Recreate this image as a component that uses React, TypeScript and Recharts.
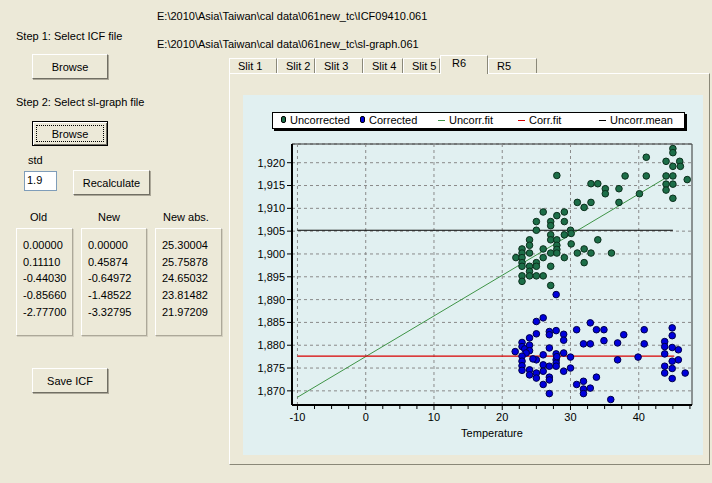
import React from "react";
import {
  ScatterChart,
  Scatter,
  XAxis,
  YAxis,
  CartesianGrid,
  ReferenceLine,
  ReferenceArea,
  Legend,
} from "recharts";

// axis ticks
const xTicks = [-10, 0, 10, 20, 30, 40];
const xMinorTicks = [-7.5, -5, -2.5, 2.5, 5, 7.5, 12.5, 15, 17.5, 22.5, 25, 27.5, 32.5, 35, 37.5, 42.5, 45, 47.5];
const yTicks = [1870, 1875, 1880, 1885, 1890, 1895, 1900, 1905, 1910, 1915, 1920];

// Uncorrected points (temperature, ratio)
const uncorrected = [
  { t: 28.0, v: 1917.2 }, { t: 33.0, v: 1915.4 }, { t: 34.0, v: 1915.4 }, { t: 35.1, v: 1914.3 },
  { t: 35.1, v: 1913.2 }, { t: 37.1, v: 1914.3 }, { t: 38.0, v: 1917.1 }, { t: 40.1, v: 1913.2 },
  { t: 41.1, v: 1921.2 }, { t: 41.1, v: 1917.1 }, { t: 44.0, v: 1920.3 }, { t: 44.0, v: 1917.1 },
  { t: 44.0, v: 1915.3 }, { t: 44.0, v: 1914.0 }, { t: 45.0, v: 1923.1 }, { t: 45.0, v: 1922.2 },
  { t: 45.0, v: 1919.2 }, { t: 45.0, v: 1917.1 }, { t: 45.0, v: 1915.3 }, { t: 45.0, v: 1912.2 },
  { t: 46.0, v: 1920.3 }, { t: 46.1, v: 1919.2 }, { t: 47.1, v: 1916.3 }, { t: 37.1, v: 1911.3 },
  { t: 31.0, v: 1911.3 }, { t: 33.0, v: 1911.3 }, { t: 32.0, v: 1910.2 }, { t: 26.0, v: 1909.2 },
  { t: 29.1, v: 1909.2 }, { t: 28.0, v: 1908.4 }, { t: 25.0, v: 1907.1 }, { t: 27.1, v: 1907.1 },
  { t: 29.1, v: 1907.1 }, { t: 27.1, v: 1906.2 }, { t: 25.0, v: 1905.2 }, { t: 30.0, v: 1905.2 },
  { t: 30.1, v: 1904.5 }, { t: 27.1, v: 1904.2 }, { t: 29.1, v: 1904.2 }, { t: 24.0, v: 1903.1 },
  { t: 27.1, v: 1903.1 }, { t: 28.0, v: 1903.1 }, { t: 34.0, v: 1903.1 }, { t: 30.1, v: 1902.2 },
  { t: 24.0, v: 1901.9 }, { t: 28.0, v: 1901.9 }, { t: 22.9, v: 1901.1 }, { t: 26.0, v: 1901.1 },
  { t: 28.0, v: 1901.0 }, { t: 32.0, v: 1901.1 }, { t: 22.9, v: 1900.2 }, { t: 24.0, v: 1900.2 },
  { t: 27.1, v: 1900.2 }, { t: 28.0, v: 1900.2 }, { t: 31.0, v: 1900.2 }, { t: 33.0, v: 1900.2 },
  { t: 36.0, v: 1900.2 }, { t: 22.0, v: 1899.2 }, { t: 22.9, v: 1899.2 }, { t: 26.0, v: 1899.2 },
  { t: 29.1, v: 1899.2 }, { t: 22.9, v: 1898.1 }, { t: 25.0, v: 1898.1 }, { t: 32.0, v: 1898.1 },
  { t: 22.9, v: 1897.3 }, { t: 24.0, v: 1897.3 }, { t: 25.0, v: 1897.3 }, { t: 27.1, v: 1897.3 },
  { t: 24.0, v: 1896.2 }, { t: 22.9, v: 1895.2 }, { t: 24.0, v: 1895.2 }, { t: 25.0, v: 1895.2 },
  { t: 26.0, v: 1895.2 }, { t: 22.9, v: 1894.0 }, { t: 27.1, v: 1893.1 },
];

// Corrected points
const corrected = [
  { t: 26.0, v: 1886.0 }, { t: 25.0, v: 1885.2 }, { t: 32.9, v: 1884.9 }, { t: 30.9, v: 1883.4 },
  { t: 33.8, v: 1883.4 }, { t: 34.9, v: 1883.4 }, { t: 40.8, v: 1883.4 }, { t: 44.9, v: 1883.8 },
  { t: 26.9, v: 1883.0 }, { t: 26.9, v: 1882.3 }, { t: 27.9, v: 1883.2 }, { t: 29.0, v: 1882.4 },
  { t: 29.0, v: 1881.1 }, { t: 25.0, v: 1882.5 }, { t: 37.8, v: 1882.3 }, { t: 44.9, v: 1882.1 },
  { t: 24.0, v: 1881.6 }, { t: 34.9, v: 1881.0 }, { t: 31.9, v: 1880.3 }, { t: 32.9, v: 1880.3 },
  { t: 36.9, v: 1880.5 }, { t: 40.8, v: 1880.3 }, { t: 43.8, v: 1880.8 }, { t: 43.8, v: 1879.7 },
  { t: 22.9, v: 1880.6 }, { t: 22.9, v: 1879.7 }, { t: 23.3, v: 1879.2 }, { t: 44.9, v: 1879.5 },
  { t: 45.8, v: 1879.0 }, { t: 26.9, v: 1879.4 }, { t: 21.9, v: 1878.6 }, { t: 24.0, v: 1880.0 },
  { t: 24.0, v: 1878.8 }, { t: 23.5, v: 1878.3 }, { t: 26.0, v: 1877.9 }, { t: 27.9, v: 1878.1 },
  { t: 29.0, v: 1878.3 }, { t: 30.0, v: 1877.4 }, { t: 36.9, v: 1876.8 }, { t: 39.9, v: 1877.4 },
  { t: 43.8, v: 1878.1 }, { t: 22.9, v: 1877.6 }, { t: 22.9, v: 1876.5 }, { t: 22.9, v: 1875.5 },
  { t: 22.9, v: 1874.5 }, { t: 25.0, v: 1876.8 }, { t: 27.9, v: 1876.8 }, { t: 27.9, v: 1876.1 },
  { t: 27.9, v: 1875.4 }, { t: 26.0, v: 1875.7 }, { t: 26.9, v: 1875.4 }, { t: 45.8, v: 1876.8 },
  { t: 44.9, v: 1876.5 }, { t: 43.8, v: 1875.4 }, { t: 43.8, v: 1873.9 }, { t: 44.9, v: 1874.9 },
  { t: 46.8, v: 1873.9 }, { t: 44.9, v: 1872.7 }, { t: 30.0, v: 1875.0 }, { t: 29.0, v: 1874.3 },
  { t: 24.0, v: 1874.6 }, { t: 24.0, v: 1873.5 }, { t: 25.0, v: 1873.9 }, { t: 25.0, v: 1872.8 },
  { t: 26.0, v: 1874.3 }, { t: 26.9, v: 1873.0 }, { t: 26.9, v: 1872.4 }, { t: 33.8, v: 1873.0 },
  { t: 26.0, v: 1871.4 }, { t: 30.9, v: 1871.4 }, { t: 31.9, v: 1872.1 }, { t: 31.9, v: 1870.4 },
  { t: 31.9, v: 1869.4 }, { t: 32.9, v: 1870.6 }, { t: 26.9, v: 1869.4 }, { t: 35.9, v: 1868.1 },
  { t: 24.5, v: 1877.0 }, { t: 28.0, v: 1877.5 }, { t: 27.9, v: 1891.1 },
];

// fitted lines (end points)
const uncorrFit = [{ t: -10, v: 1868.6 }, { t: 45, v: 1917.6 }];
const corrFit = [{ t: -10, v: 1877.6 }, { t: 45.2, v: 1877.6 }];
const uncorrMean = [{ t: -10, v: 1905.2 }, { t: 45, v: 1905.2 }];

const legendItems = [
  { label: "Uncorrected", kind: "dot", color: "#1c6e48" },
  { label: "Corrected", kind: "dot", color: "#0000dc" },
  { label: "Uncorr.fit", kind: "line", color: "#3f9447" },
  { label: "Corr.fit", kind: "line", color: "#d80000" },
  { label: "Uncorr.mean", kind: "line", color: "#000000" },
];
const legendOffsets = [8, 87, 165, 245, 326];

const oldValues = ["0.00000", "0.11110", "-0.44030", "-0.85660", "-2.77700"];
const newValues = ["0.00000", "0.45874", "-0.64972", "-1.48522", "-3.32795"];
const newAbsValues = ["25.30004", "25.75878", "24.65032", "23.81482", "21.97209"];

const tabs = ["Slit 1", "Slit 2", "Slit 3", "Slit 4", "Slit 5", "R6", "R5"];
const tabX = [229, 277, 315, 363, 403, 440, 488, 537];

const FONT = '"Liberation Sans", Arial, sans-serif';
const BG = "#ece9d8";
const CHART_BG = "#e1f0f1";

const allXTicks = [...xTicks, ...xMinorTicks].sort((a, b) => a - b);

const fmtY = (v: number) => v.toLocaleString("en-US");

const makeDot = (fill: string, stroke: string) => (props: any) => {
  const { cx, cy } = props;
  if (cx == null || cy == null) return <g />;
  return <circle cx={cx} cy={cy} r={3.3} fill={fill} stroke={stroke} strokeWidth={1} />;
};

// x tick: tick mark for every tick, label only on the major ones
const XTick = (props: any) => {
  const { x, y, payload } = props;
  const major = xTicks.includes(payload.value);
  return (
    <g>
      <line x1={x} x2={x} y1={y} y2={y + (major ? 5 : 4)} stroke="#000" />
      {major && (
        <text x={x} y={y + 8} dy="0.71em" textAnchor="middle" fontSize={11} fill="#000">
          {payload.value}
        </text>
      )}
    </g>
  );
};

function ChartLegend() {
  return (
    <div
      style={{
        position: "relative",
        width: 411,
        height: 15,
        background: "#fff",
        border: "1px solid #000",
        boxShadow: "2px 2px 0 #000",
        fontFamily: FONT,
        fontSize: 11,
        color: "#000",
      }}
    >
      {legendItems.map((it, i) => (
        <div key={it.label} style={{ position: "absolute", left: legendOffsets[i], top: 1, whiteSpace: "nowrap", lineHeight: "13px" }}>
          {it.kind === "dot" ? (
            <span style={{ display: "inline-block", width: 3, height: 5, borderRadius: 2, background: it.color, border: "0.5px solid #000", marginRight: 4, verticalAlign: 1 }} />
          ) : (
            <span style={{ display: "inline-block", width: 7, height: 1, background: it.color, marginRight: 4, verticalAlign: 3 }} />
          )}
          {it.label}
        </div>
      ))}
    </div>
  );
}

const text = (left: number, top: number, s: string, extra: React.CSSProperties = {}) => (
  <div style={{ position: "absolute", left, top, whiteSpace: "nowrap", lineHeight: "13px", ...extra }}>{s}</div>
);

function Button({ left, top, width, height, label, focused }: { left: number; top: number; width: number; height: number; label: string; focused?: boolean }) {
  return (
    <div
      style={{
        position: "absolute",
        left,
        top,
        width,
        height,
        boxSizing: "border-box",
        background: BG,
        border: "1px solid",
        borderColor: focused ? "#000" : "#fff #716f64 #716f64 #fff",
        boxShadow: focused ? "inset 1px 1px 0 #fff, inset -1px -1px 0 #716f64" : "1px 1px 0 #aca899",
        display: "flex",
        alignItems: "center",
        justifyContent: "center",
      }}
    >
      {focused && (
        <div style={{ position: "absolute", left: 3, top: 3, right: 3, bottom: 3, border: "1px dotted #000" }} />
      )}
      {label}
    </div>
  );
}

function ValueBox({ left, width, values }: { left: number; width: number; values: string[] }) {
  return (
    <div
      style={{
        position: "absolute",
        left,
        top: 228,
        width,
        height: 108,
        boxSizing: "border-box",
        border: "1px solid",
        borderColor: "#fff #aca899 #aca899 #fff",
        boxShadow: "1px 1px 0 #d4d0c0",
      }}
    >
      {values.map((v, i) => (
        <div key={i} style={{ position: "absolute", left: 6, top: 10 + i * 16.7, lineHeight: "13px" }}>{v}</div>
      ))}
    </div>
  );
}

export default function App() {
  return (
    <div
      style={{
        position: "absolute",
        left: 0,
        top: 0,
        width: 712,
        height: 483,
        background: BG,
        fontFamily: FONT,
        fontSize: 11,
        color: "#000",
        overflow: "hidden",
      }}
    >
      {text(157, 10, "E:\\2010\\Asia\\Taiwan\\cal data\\061new_tc\\ICF09410.061")}
      {text(157, 38, "E:\\2010\\Asia\\Taiwan\\cal data\\061new_tc\\sl-graph.061")}
      {text(16, 30, "Step 1: Select ICF file")}
      <Button left={32} top={54} width={76} height={25} label="Browse" />
      {text(16, 96, "Step 2: Select sl-graph file")}
      <Button left={32} top={121} width={76} height={25} label="Browse" focused />
      {text(28, 154, "std")}
      <div
        style={{
          position: "absolute",
          left: 24,
          top: 171,
          width: 33,
          height: 20,
          boxSizing: "border-box",
          background: "#fff",
          border: "1px solid",
          borderColor: "#7f9db9",
          paddingLeft: 2,
          lineHeight: "17px",
        }}
      >
        1.9
      </div>
      <Button left={73} top={170} width={77} height={25} label="Recalculate" />
      {text(30, 211, "Old")}
      {text(98, 211, "New")}
      {text(163, 211, "New abs.")}
      <ValueBox left={16} width={57} values={oldValues} />
      <ValueBox left={81} width={66} values={newValues} />
      <ValueBox left={155} width={67} values={newAbsValues} />
      <Button left={32} top={368} width={76} height={25} label="Save ICF" />

      {/* tab strip */}
      {tabs.map((t, i) => {
        const sel = t === "R6";
        return (
          <div
            key={t}
            style={{
              position: "absolute",
              left: tabX[i],
              top: sel ? 55 : 58,
              width: tabX[i + 1] - tabX[i],
              height: sel ? 19 : 15,
              boxSizing: "border-box",
              borderLeft: "1px solid #fff",
              borderTop: "1px solid #fff",
              borderRight: "1px solid #8a8878",
              background: BG,
              paddingLeft: sel ? 11 : 8,
              paddingTop: 1,
              lineHeight: "13px",
              zIndex: sel ? 2 : 1,
            }}
          >
            {t}
          </div>
        );
      })}
      <div
        style={{
          position: "absolute",
          left: 229,
          top: 73,
          width: 481,
          height: 392,
          boxSizing: "border-box",
          border: "1px solid",
          borderColor: "#fff #8a8878 #8a8878 #fff",
          background: BG,
        }}
      />

      <div style={{ position: "absolute", left: 243, top: 95, width: 460, height: 360, background: CHART_BG }}>
        <ScatterChart width={460} height={360} margin={{ top: 49, right: 11, bottom: 0, left: 0 }} style={{ fontFamily: FONT }}>
          <XAxis
            type="number"
            dataKey="t"
            domain={[-10.8, 47.8]}
            allowDataOverflow
            ticks={allXTicks}
            interval={0}
            tickSize={0}
            tickMargin={0}
            tick={<XTick />}
            axisLine={{ stroke: "#000", strokeWidth: 2 }}
            tickLine={false}
            height={50}
            label={{ value: "Temperature", position: "insideBottom", offset: 18, fill: "#000", fontSize: 11 }}
          />
          <YAxis
            type="number"
            dataKey="v"
            domain={[1866.9, 1924.1]}
            allowDataOverflow
            ticks={yTicks}
            interval={0}
            tickFormatter={fmtY}
            tickSize={5}
            tickMargin={2}
            tick={{ fontSize: 11, fill: "#000" }}
            axisLine={{ stroke: "#000", strokeWidth: 2 }}
            tickLine={{ stroke: "#000" }}
            width={49}
          />
          <CartesianGrid stroke="#8a8a8a" strokeDasharray="3 3" vertical={false} />
          {xTicks.map((t) => (
            <ReferenceLine key={t} x={t} stroke="#8a8a8a" strokeDasharray="3 3" />
          ))}
          <ReferenceArea x1={-10.8} x2={47.8} y1={1866.9} y2={1924.1} fill="none" stroke="#333" strokeWidth={1} ifOverflow="visible" />
          <Legend
            layout="horizontal"
            align="center"
            verticalAlign="middle"
            wrapperStyle={{ top: 17, left: 29, width: 415 }}
            content={() => <ChartLegend />}
          />
          <ReferenceLine segment={uncorrFit.map((p) => ({ x: p.t, y: p.v }))} stroke="#3f9447" strokeWidth={1} />
          <ReferenceLine segment={corrFit.map((p) => ({ x: p.t, y: p.v }))} stroke="#d80000" strokeWidth={1.3} />
          <ReferenceLine segment={uncorrMean.map((p) => ({ x: p.t, y: p.v }))} stroke="#000" strokeWidth={1.2} />
          <Scatter name="Uncorrected" data={uncorrected} shape={makeDot("#1c6e48", "#0b2f1c")} isAnimationActive={false} />
          <Scatter name="Corrected" data={corrected} shape={makeDot("#0000dc", "#00004a")} isAnimationActive={false} />
        </ScatterChart>
      </div>
    </div>
  );
}
